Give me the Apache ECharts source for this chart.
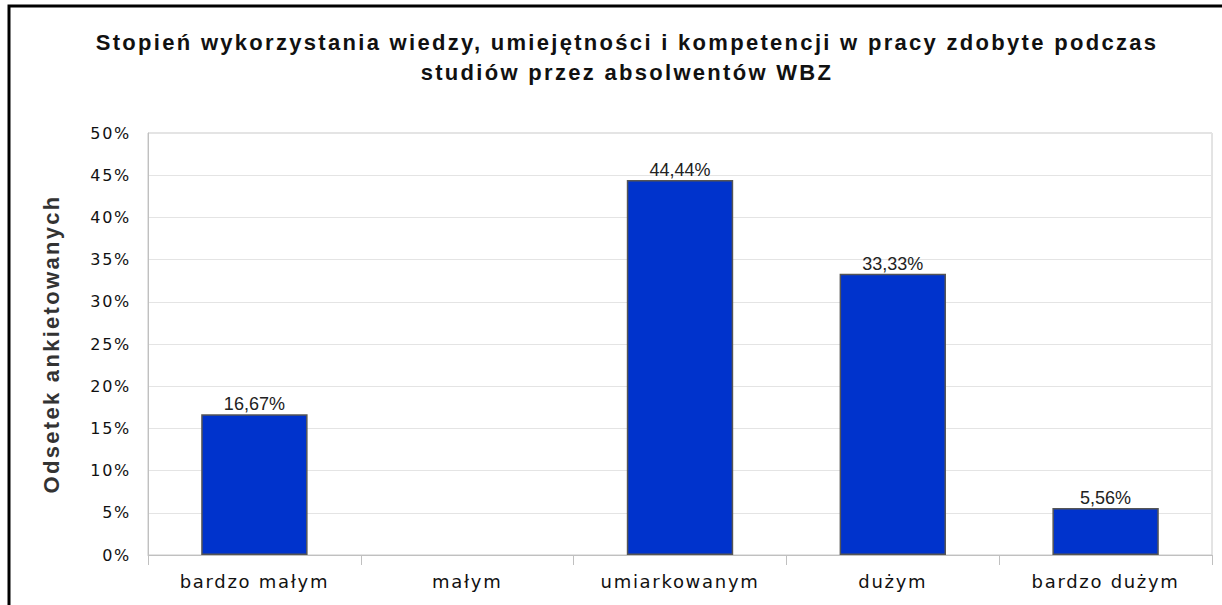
<!DOCTYPE html>
<html>
<head>
<meta charset="utf-8">
<script src="https://cdn.jsdelivr.net/npm/echarts@6/dist/echarts.min.js"></script>
<style>
html,body{margin:0;padding:0;background:#fff;}
#chart{width:1222px;height:605px;}
#chart text[style*="bold"]{letter-spacing:2.3px;}
#chart text[style*="DejaVu"]{letter-spacing:1.7px;}
</style>
</head>
<body>
<div id="chart"></div>
<script>
const categories = ['bardzo małym', 'małym', 'umiarkowanym', 'dużym', 'bardzo dużym'];
const values = [16.67, 0, 44.44, 33.33, 5.56];
const yTicks = [0, 5, 10, 15, 20, 25, 30, 35, 40, 45, 50];
const titleText = 'Stopień wykorzystania wiedzy, umiejętności i kompetencji w pracy zdobyte podczas\nstudiów przez absolwentów WBZ';
const yAxisName = 'Odsetek ankietowanych';

const chart = echarts.init(document.getElementById('chart'), null, {renderer: 'svg'});
chart.setOption({
  animation: false,
  backgroundColor: '#ffffff',
  title: {
    text: titleText,
    left: 622, textAlign: 'center', top: 22,
    textStyle: {fontFamily: 'Liberation Sans', fontWeight: 'bold', fontSize: 22, color: '#111', lineHeight: 30}
  },
  graphic: [{
    type: 'rect', shape: {x: 9, y: 6, width: 1300, height: 700},
    style: {fill: 'none', stroke: '#000', lineWidth: 3}, silent: true, z: 100
  }],
  grid: {left: 148, right: 10, top: 133, bottom: 50, containLabel: false,
    show: true, borderColor: '#c8c8c8', borderWidth: 1, backgroundColor: 'transparent'},
  xAxis: {
    type: 'category', data: categories,
    axisLine: {lineStyle: {color: '#c0c0c0', width: 1}},
    axisTick: {show: true, alignWithLabel: false, length: 10, lineStyle: {color: '#c0c0c0'}},
    axisLabel: {fontFamily: 'DejaVu Sans', fontSize: 18, color: '#111', margin: 17}
  },
  yAxis: {
    type: 'value', min: 0, max: 50, interval: 5,
    name: yAxisName, nameLocation: 'middle', nameGap: 86,
    nameTextStyle: {fontFamily: 'Liberation Sans', fontWeight: 'bold', fontSize: 22, color: '#333'},
    axisLine: {show: true, lineStyle: {color: '#c0c0c0'}},
    axisTick: {show: false},
    axisLabel: {fontFamily: 'DejaVu Sans', fontSize: 16, color: '#111', margin: 17,
      formatter: v => yTicks.includes(v) ? v + '%' : ''},
    splitLine: {show: true, lineStyle: {color: '#e4e4e4'}}
  },
  series: [{
    type: 'bar',
    data: values.map(v => v === 0 ? {value: v, itemStyle: {borderWidth: 0}} : v),
    barWidth: '50%',
    itemStyle: {color: '#0033cc', borderColor: '#555555', borderWidth: 1.5},
    label: {
      show: true, position: 'top', distance: 1,
      fontFamily: 'Liberation Sans', fontSize: 18, color: '#222',
      formatter: p => p.value === 0 ? '' : p.value.toFixed(2).replace('.', ',') + '%'
    }
  }]
});
</script>
</body>
</html>
